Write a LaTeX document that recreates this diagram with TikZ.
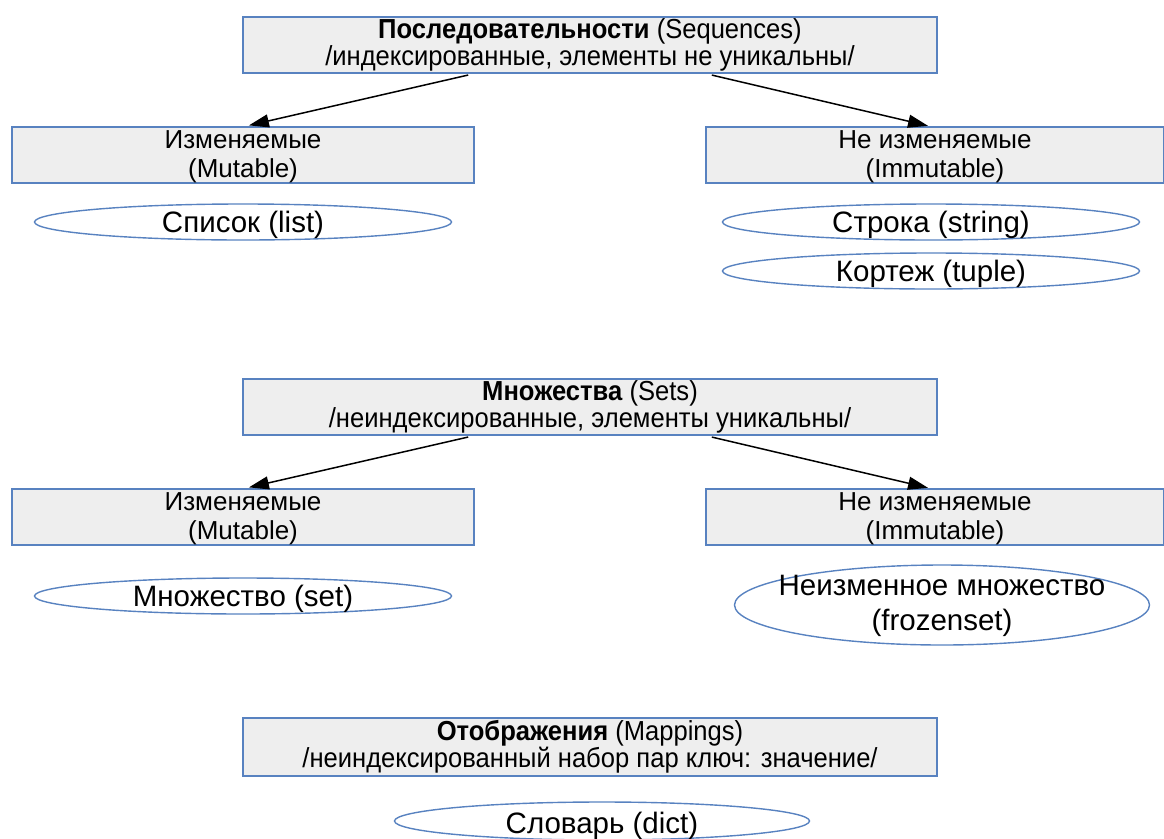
\documentclass[tikz,border=0pt]{standalone}
\usepackage{fontspec}
\setmainfont{Liberation Sans}
\newfontfamily\narrowfont[FakeStretch=0.93]{Liberation Sans}
\usetikzlibrary{shapes.geometric,arrows.meta}
\definecolor{bordblue}{RGB}{88,130,192}
\definecolor{boxfill}{RGB}{238,238,238}
\tikzset{
  hdrbox/.style={draw=bordblue, fill=boxfill, line width=1.4pt, rectangle,
    minimum width=694pt, minimum height=56pt, inner sep=0pt, align=center,
    font=\narrowfont\fontsize{27.5}{27.5}\selectfont},
  subbox/.style={draw=bordblue, fill=boxfill, line width=1.4pt, rectangle,
    minimum height=56pt, inner sep=0pt},
  subtext/.style={inner sep=0pt, align=center, font=\fontsize{26}{29}\selectfont},
  oval/.style={draw=bordblue, line width=1.4pt, ellipse, inner sep=0pt,
    minimum width=417pt, minimum height=36pt},
  ovaltext/.style={font=\fontsize{29.5}{35}\selectfont, align=center, inner sep=0pt},
  arr/.style={line width=1.5pt, -{Triangle[length=20pt,width=13pt]}}
}
\begin{document}
\begin{tikzpicture}[x=1pt,y=-1pt]
\useasboundingbox (0,0) rectangle (1164,838);
\clip (0,0) rectangle (1164,838);

% Sequences
\node[hdrbox] (seq) at (590,45) {\textbf{Последовательности} (Sequences)\\/индексированные, элементы не уникальны/};
\node[subbox, minimum width=462pt] (seqm) at (243,155) {};
\node[subtext] (seqmt) at (243,157) {Изменяемые\\(Mutable)};
\node[subbox, minimum width=458pt] (seqi) at (935,155) {};
\node[subtext] (seqit) at (935,157) {Не изменяемые\\(Immutable)};
\draw[arr, shorten <=6pt, shorten >=4pt] ([xshift=-116pt]seq.south) -- ([xshift=2pt]seqm.north);
\draw[arr, shorten <=6pt, shorten >=2pt] ([xshift=116pt]seq.south) -- ([xshift=-5pt]seqi.north);
\node[oval] (list) at (243,222) {};
\node[ovaltext] (listt) at (243,225) {Список (list)};
\node[oval] (str) at (931,222) {};
\node[ovaltext] (strt) at (931,225) {Строка (string)};
\node[oval] (tup) at (931,271) {};
\node[ovaltext] (tupt) at (931,274) {Кортеж (tuple)};

% Sets
\node[hdrbox] (sets) at (590,407) {\textbf{Множества} (Sets)\\/неиндексированные, элементы уникальны/};
\node[subbox, minimum width=462pt] (setm) at (243,517) {};
\node[subtext] (setmt) at (243,519) {Изменяемые\\(Mutable)};
\node[subbox, minimum width=458pt] (seti) at (935,517) {};
\node[subtext] (setit) at (935,519) {Не изменяемые\\(Immutable)};
\draw[arr, shorten <=6pt, shorten >=4pt] ([xshift=-116pt]sets.south) -- ([xshift=2pt]setm.north);
\draw[arr, shorten <=6pt, shorten >=2pt] ([xshift=116pt]sets.south) -- ([xshift=-5pt]seti.north);
\node[oval] (set) at (243,596) {};
\node[ovaltext] (sett) at (243,599) {Множество (set)};
\node[oval, minimum width=415pt, minimum height=80pt] (fset) at (942,605) {};
\node[ovaltext] (fsett) at (942,606) {Неизменное множество\\(frozenset)};

% Mappings
\node[hdrbox, minimum height=58pt] (map) at (590,747) {\textbf{Отображения} (Mappings)\\/неиндексированный набор пар ключ: значение/};
\node[oval, minimum width=415pt, minimum height=38pt] (dict) at (602,821) {};
\node[ovaltext] (dictt) at (602,826) {Словарь (dict)};
\end{tikzpicture}
\end{document}
